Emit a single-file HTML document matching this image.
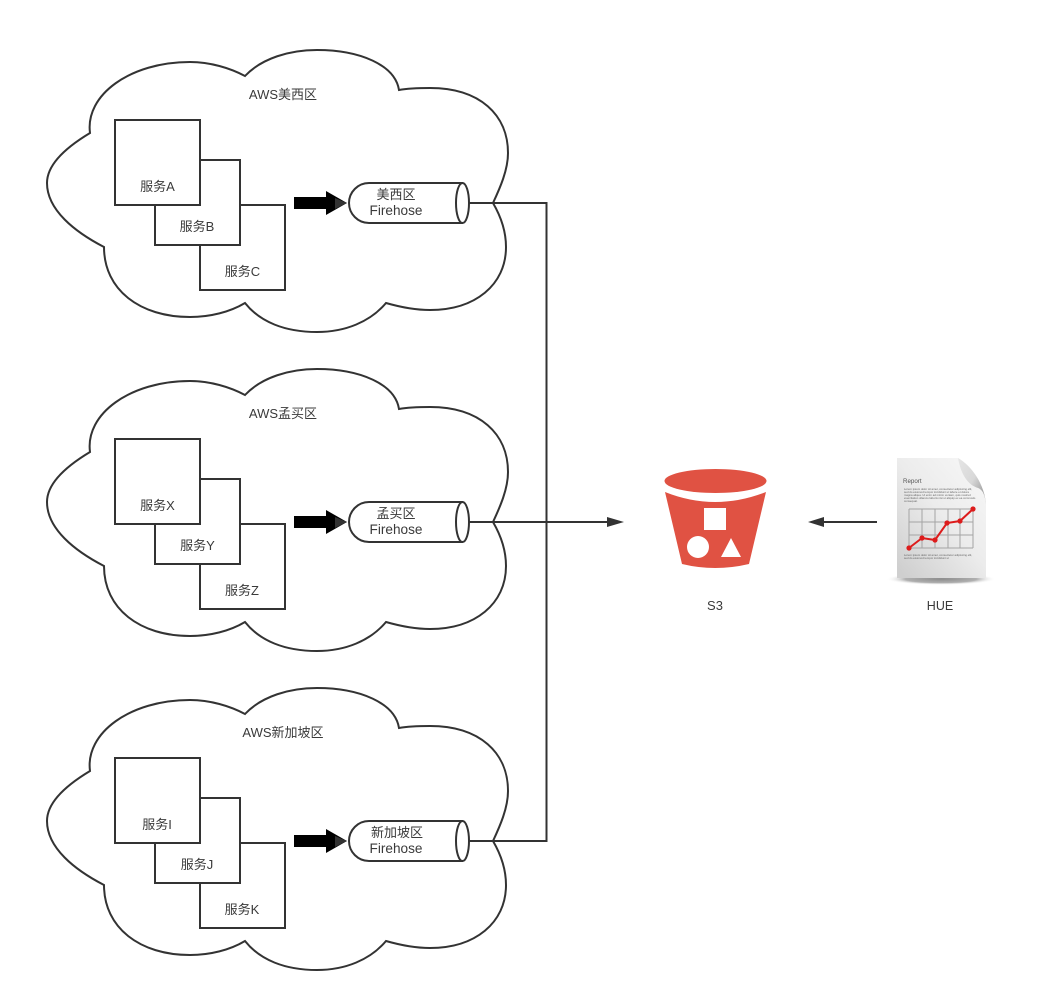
<!DOCTYPE html>
<html>
<head>
<meta charset="utf-8">
<style>
html,body{margin:0;padding:0;background:#fff;width:1053px;height:1002px;overflow:hidden}
svg{display:block}
text{font-family:"Liberation Sans","Noto Sans CJK SC",sans-serif;font-size:13px;fill:#3a3a3a;text-anchor:middle}
text.fh{font-size:13.6px}
text.t{font-size:2.8px;text-anchor:start;fill:#666}
</style>
</head>
<body>
<svg width="1053" height="1002" viewBox="0 0 1053 1002" xmlns="http://www.w3.org/2000/svg">
<defs>
<linearGradient id="pg" x1="1" y1="0" x2="0.1" y2="1"><stop offset="0" stop-color="#f8f8f8"/><stop offset="0.5" stop-color="#ececec"/><stop offset="1" stop-color="#cfcfcf"/></linearGradient>
<linearGradient id="fold" x1="0.1" y1="0" x2="1" y2="0.9"><stop offset="0" stop-color="#e4e4e4"/><stop offset="0.5" stop-color="#d8d8d8"/><stop offset="1" stop-color="#8c8c8c"/></linearGradient>
<radialGradient id="sh"><stop offset="0" stop-color="#8c8c8c"/><stop offset="0.65" stop-color="#b0b0b0"/><stop offset="1" stop-color="#fff" stop-opacity="0"/></radialGradient>
<g id="region" fill="none" stroke="#333">
<path stroke-width="2" d="M90 133 C85 95 130 62 190 62 C210 62 230 68 245 76 C262 58 290 50 317 50 C360 50 395 65 399 90 C410 88 420 88 430 88 C480 88 508 115 508 153 C508 170 500 188 493 203 C500 215 506 230 506 247 C506 285 475 310 430 310 C415 310 400 307 386 303 C370 322 345 332 317 332 C285 332 260 322 245 303 C230 312 210 317 190 317 C140 317 104 290 104 247 C75 232 47 210 47 183 C47 165 65 148 90 133 Z"/>
<rect x="200" y="205" width="85" height="85" fill="#fff" stroke-width="2"/>
<rect x="155" y="160" width="85" height="85" fill="#fff" stroke-width="2"/>
<rect x="115" y="120" width="85" height="85" fill="#fff" stroke-width="2"/>
<path d="M294 197 H326 V191 L347 203 L326 215 V209 H294 Z" fill="#000" stroke="none"/>
<path d="M335 198 L347 203 L335 209 Z" fill="#333" stroke="none"/>
<path d="M369 183 H462 V223 H369 A20 20 0 0 1 369 183 Z" fill="#fff" stroke-width="2"/>
<ellipse cx="462.5" cy="203" rx="6.5" ry="20" fill="#fff" stroke-width="2"/>
</g>
</defs>

<use href="#region"/>
<use href="#region" y="319"/>
<use href="#region" y="638"/>

<g fill="none" stroke="#333" stroke-width="2">
<path d="M469 203 H546.500 V841 H469"/>
<path d="M469 522 H610"/>
<path d="M877 522 H822"/>
</g>
<path d="M624 522 L607 517 V527 Z" fill="#333"/>
<path d="M808 522 L824 517 V527 Z" fill="#333"/>

<text x="283" y="99">AWS美西区</text>
<text x="157.500" y="191">服务A</text>
<text x="197" y="231">服务B</text>
<text x="242.500" y="276">服务C</text>
<text x="396" y="199">美西区</text>
<text class="fh" x="396" y="215">Firehose</text>

<text x="283" y="418">AWS孟买区</text>
<text x="157.500" y="510">服务X</text>
<text x="197.500" y="550">服务Y</text>
<text x="242" y="595">服务Z</text>
<text x="396" y="518">孟买区</text>
<text class="fh" x="396" y="534">Firehose</text>

<text x="283" y="737">AWS新加坡区</text>
<text x="157" y="829">服务I</text>
<text x="197" y="869">服务J</text>
<text x="242" y="914">服务K</text>
<text x="397" y="837">新加坡区</text>
<text class="fh" x="396" y="853">Firehose</text>

<!-- S3 bucket -->
<ellipse cx="715.500" cy="481" rx="51" ry="12" fill="#e05243"/>
<path d="M665 492 Q715 512 766 492 L749 564 Q715 572 682 564 Z" fill="#e05243"/>
<rect x="704" y="508" width="22" height="22" fill="#fff"/>
<circle cx="698" cy="547" r="11" fill="#fff"/>
<path d="M731 538 L741 557 H721 Z" fill="#fff"/>
<text x="715" y="610">S3</text>

<!-- HUE report -->
<ellipse cx="941" cy="579" rx="55" ry="6" fill="url(#sh)"/>
<path d="M897 458 H958 C961 475 968 485 978 488 C983 490 985 495 986 505 V578 H897 Z" fill="url(#pg)"/>
<path d="M958 458 C961 475 968 485 978 488 C983 490 985 495 986 505 C985 485 972 466 958 458 Z" fill="url(#fold)"/>
<text x="903" y="483" style="font-size:6.200px;text-anchor:start;fill:#555">Report</text>
<text class="t" x="904" y="490">Lorem ipsum dolor sit amet, consectetur adipiscing elit,</text>
<text class="t" x="904" y="493">sed do eiusmod tempor incididunt ut labore et dolore</text>
<text class="t" x="904" y="496">magna aliqua. Ut enim ad minim veniam, quis nostrud</text>
<text class="t" x="904" y="499">exercitation ullamco laboris nisi ut aliquip ex ea commodo</text>
<text class="t" x="904" y="502">consequat.</text>
<text class="t" x="904" y="556">Lorem ipsum dolor sit amet, consectetur adipiscing elit,</text>
<text class="t" x="904" y="559">sed do eiusmod tempor incididunt ut</text>
<g stroke="#a4a4a4" stroke-width="1" fill="none">
<path d="M909 509 H973 M909 522 H973 M909 535 H973 M909 548 H973 M909 509 V548 M922 509 V548 M935 509 V548 M948 509 V548 M960 509 V548 M973 509 V548"/>
</g>
<path d="M909 548 L922 538 L935 540 L947 523 L960 521 L973 509" fill="none" stroke="#dd1c1c" stroke-width="2"/>
<g fill="#dd1c1c">
<circle cx="909" cy="548" r="2.600"/><circle cx="922" cy="538" r="2.600"/><circle cx="935" cy="540" r="2.600"/><circle cx="947" cy="523" r="2.600"/><circle cx="960" cy="521" r="2.600"/><circle cx="973" cy="509" r="2.600"/>
</g>
<text x="940" y="610" style="font-size:12.500px">HUE</text>
</svg>
</body>
</html>
